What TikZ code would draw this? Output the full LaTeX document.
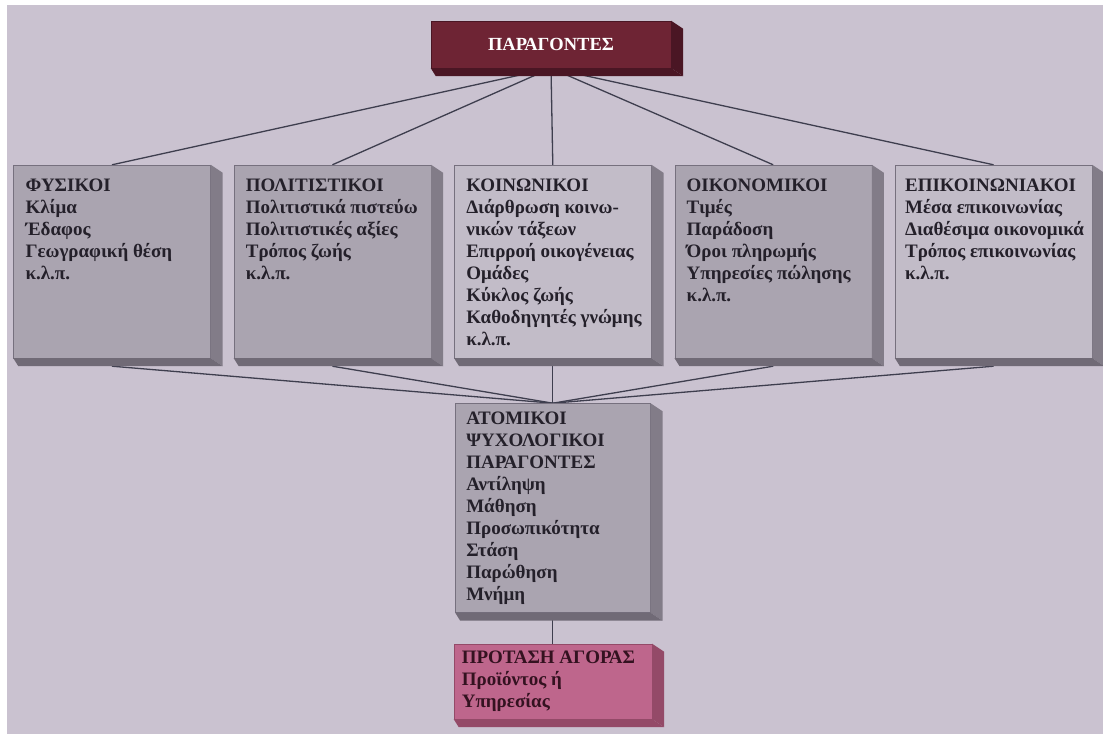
\documentclass[tikz,border=0pt]{standalone}
\usepackage{fontspec}
\setmainfont{Liberation Serif}
\usetikzlibrary{positioning, backgrounds}
\definecolor{paper}{RGB}{202,194,208}
\definecolor{slabdark}{RGB}{170,164,176}
\definecolor{slablight}{RGB}{194,188,200}
\definecolor{slabside}{RGB}{130,124,136}
\definecolor{slabfoot}{RGB}{112,106,118}
\definecolor{slabedge}{RGB}{118,112,126}
\definecolor{headred}{RGB}{110,36,52}
\definecolor{headside}{RGB}{74,22,36}
\definecolor{offerpink}{RGB}{190,102,140}
\definecolor{offerside}{RGB}{148,74,104}
\definecolor{offerink}{RGB}{52,18,32}
\definecolor{ink}{RGB}{36,32,42}
\definecolor{linkgray}{RGB}{62,62,78}

\begin{document}
\begin{tikzpicture}[x=1pt, y=-1pt,
    node distance=45pt and 23pt,
    slab/.style={rectangle, draw=slabedge, line width=0.4pt, inner sep=0pt,
                 minimum width=197pt, minimum height=193pt},
    boxtext/.style={anchor=north west, align=left, inner xsep=12pt, inner ysep=14pt,
                    text=ink, font=\bfseries\fontsize{19}{22}\selectfont},
    link/.style={draw=linkgray, line width=1.3pt}
]
    \useasboundingbox (0,0) rectangle (1103,738);

    % Head box
    \node[slab, fill=headred, draw=headside, minimum width=240pt, minimum height=47pt,
          text=white, font=\bfseries\fontsize{18.5}{22}\selectfont] (par) at (551,44.5) {ΠΑΡΑΓΟΝΤΕΣ};

    % Factor row
    \node[slab, fill=slabdark] (fys) at (112,261.5) {};
    \node[slab, fill=slabdark, right=of fys] (pol) {};
    \node[slab, fill=slablight, right=of pol] (koi) {};
    \node[slab, fill=slabdark, right=of koi] (oik) {};
    \node[slab, fill=slablight, right=of oik] (epi) {};

    % Personal factors and offer
    \node[slab, fill=slabdark, minimum width=195pt, minimum height=209pt, below=45pt of koi] (ato) {};
    \node[slab, fill=offerpink, draw=offerside, minimum width=198pt, minimum height=75pt,
          below=31pt of ato] (prot) {};

    % Box sides
    \foreach \n/\sc/\fc in {par/headside/headside, fys/slabside/slabfoot, pol/slabside/slabfoot,
                            koi/slabside/slabfoot, oik/slabside/slabfoot, epi/slabside/slabfoot,
                            ato/slabside/slabfoot, prot/offerside/offerside} {
        \fill[\sc] (\n.north east) -- ++(12,8) -- ([shift={(12,8)}]\n.south east) -- (\n.south east) -- cycle;
        \fill[\fc] (\n.south west) -- (\n.south east) -- ++(12,8) -- ([shift={(5,8)}]\n.south west) -- cycle;
    }

    % Texts
    \node[boxtext] (fysT) at (fys.north west) {ΦΥΣΙΚΟΙ\\Κλίμα\\Έδαφος\\Γεωγραφική θέση\\κ.λ.π.};
    \node[boxtext] (polT) at (pol.north west) {ΠΟΛΙΤΙΣΤΙΚΟΙ\\Πολιτιστικά πιστεύω\\Πολιτιστικές αξίες\\Τρόπος ζωής\\κ.λ.π.};
    \node[boxtext] (koiT) at (koi.north west) {ΚΟΙΝΩΝΙΚΟΙ\\Διάρθρωση κοινω-\\νικών τάξεων\\Επιρροή οικογένειας\\Ομάδες\\Κύκλος ζωής\\Καθοδηγητές γνώμης\\κ.λ.π.};
    \node[boxtext] (oikT) at (oik.north west) {ΟΙΚΟΝΟΜΙΚΟΙ\\Τιμές\\Παράδοση\\Όροι πληρωμής\\Υπηρεσίες πώλησης\\κ.λ.π.};
    \node[boxtext, inner xsep=10pt] (epiT) at (epi.north west) {ΕΠΙΚΟΙΝΩΝΙΑΚΟΙ\\Μέσα επικοινωνίας\\Διαθέσιμα οικονομικά\\Τρόπος επικοινωνίας\\κ.λ.π.};
    \node[boxtext, inner xsep=11pt, inner ysep=9pt] (atoT) at (ato.north west) {ΑΤΟΜΙΚΟΙ\\ΨΥΧΟΛΟΓΙΚΟΙ\\ΠΑΡΑΓΟΝΤΕΣ\\Αντίληψη\\Μάθηση\\Προσωπικότητα\\Στάση\\Παρώθηση\\Μνήμη};
    \node[boxtext, inner xsep=8pt, inner ysep=7pt, text=offerink] (protT) at (prot.north west) {ΠΡΟΤΑΣΗ ΑΓΟΡΑΣ\\Προϊόντος ή\\Υπηρεσίας};

    % Connectors
    \begin{scope}[on background layer]
        \fill[white] (0,0) rectangle (1103,738);
        \fill[paper] (7,5) rectangle (1103,734);
        \foreach \n in {fys, pol, koi, oik, epi} {
            \draw[link] (par.south) -- (\n.north);
            \draw[link] ([yshift=-8pt]\n.south) -- (ato.north);
        }
        \draw[link] (ato.south) -- (prot.north);
    \end{scope}
\end{tikzpicture}
\end{document}
